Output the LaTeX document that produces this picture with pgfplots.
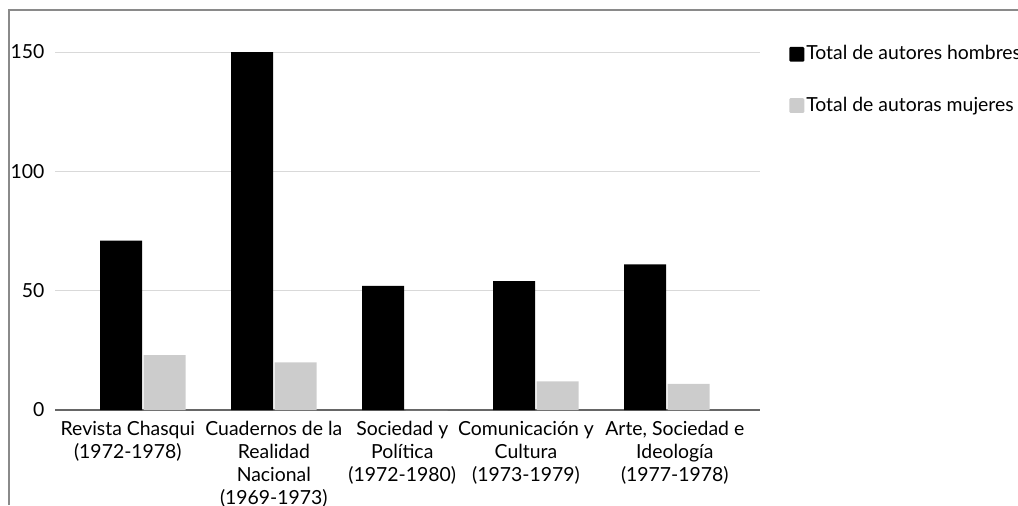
\documentclass[border=0pt]{standalone}
\usepackage{pgfplots}
\pgfplotsset{compat=1.18}
\usepackage{fontspec}
\setmainfont{Lato}
\definecolor{hombres}{HTML}{000000}
\definecolor{mujeres}{HTML}{CCCCCC}
\definecolor{grilla}{HTML}{D9D9D9}
\definecolor{marco}{HTML}{8A8A8A}
\newcommand{\etiq}{\fontsize{9.7}{11.5}\selectfont}
\begin{document}
\begin{tikzpicture}
  % 1 px of the reference = 0.5pt
  \useasboundingbox (0,0) rectangle (509pt,252.5pt);
  \draw[marco, line width=1pt] (4.7pt,0pt) -- (4.7pt,247.5pt) -- (509pt,247.5pt);
  \begin{axis}[%
    at={(27.5pt,47.5pt)}, anchor=south west,
    scale only axis,
    width=352.5pt, height=179pt,
    ybar, bar width=0.32,
    xmin=-0.67, xmax=4.71,
    ymin=0, ymax=150,
    xtick=data,
    xticklabels={,,,,},
    ytick={0,50,100,150},
    major tick length=0pt,
    axis x line*=bottom,
    axis y line*=left,
    x axis line style={draw=black!60, line width=0.75pt, -},
    y axis line style={draw=none},
    ymajorgrids=true,
    grid style={grilla, line width=0.5pt},
    /pgf/number format/assume math mode=true,
    every tick label/.append style={font=\etiq},
    yticklabel style={xshift=-1.8pt},
    legend style={at={(1.041,1.03)}, anchor=north west, draw=none,
      font=\etiq, row sep=13pt, inner sep=0pt,
      nodes={inner xsep=1pt}, cells={anchor=west}},
    legend image code/.code={%
      \fill[#1, rounded corners=0.6pt] (0pt,-3.7pt) rectangle (7.5pt,3.7pt);},
    legend cell align=left,
    /tikz/every even column/.append style={column sep=0pt},
    clip=false,
  ]
    \addplot[fill=hombres, draw=none, bar shift=-0.166] coordinates {
      (0,71) (1,150) (2,52) (3,54) (4,61)
    };
    \addplot[fill=mujeres, draw=none, bar shift=0.166] coordinates {
      (0,23) (1,20) (2,0) (3,12) (4,11)
    };
    \legend{Total de autores hombres, Total de autoras mujeres}
    \begin{scope}[every node/.style={anchor=north, align=center,
        font=\etiq, inner sep=0pt, yshift=-5.5pt}]
      \node at (axis cs:-0.114,0) {Revista Chasqui\\(1972-1978)};
      \node at (axis cs:1,0) {Cuadernos de la\\Realidad\\Nacional\\(1969-1973)};
      \node at (axis cs:1.98,0) {Sociedad y\\Política\\(1972-1980)};
      \node at (axis cs:2.924,0) {Comunicación y\\Cultura\\(1973-1979)};
      \node at (axis cs:4.06,0) {Arte, Sociedad e\\Ideología\\(1977-1978)};
    \end{scope}
  \end{axis}
\end{tikzpicture}
\end{document}
